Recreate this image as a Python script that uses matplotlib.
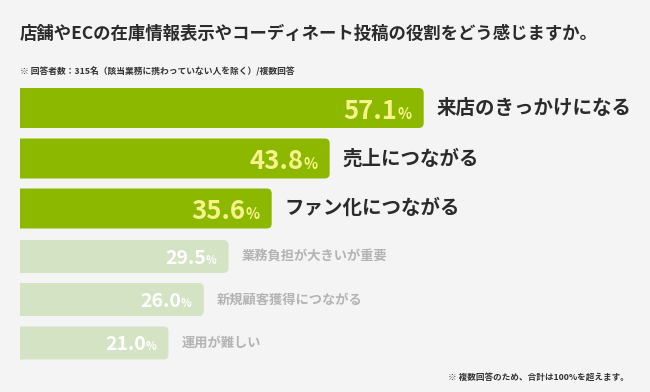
import matplotlib
matplotlib.use("Agg")
import matplotlib.pyplot as plt
from matplotlib.patches import FancyBboxPatch, Rectangle

plt.rcParams['font.family'] = ['Noto Sans CJK JP', 'DejaVu Sans']

# ---- data ----
categories = ["来店のきっかけになる", "売上につながる", "ファン化につながる",
              "業務負担が大きいが重要", "新規顧客獲得につながる", "運用が難しい"]
values = [57.1, 43.8, 35.6, 29.5, 26.0, 21.0]
highlight = [True, True, True, False, False, False]

title = "店舗やECの在庫情報表示やコーディネート投稿の役割をどう感じますか。"
note_top = "※ 回答者数：315名（該当業務に携わっていない人を除く）/複数回答"
note_bottom = "※ 複数回答のため、合計は100%を超えます。"

# ---- layout (pixels) ----
W, H = 650, 392
left_px = 20
px_per_pct = 7.07
centers_px = [108, 158.5, 208.5, 256.5, 299.5, 343]
heights_px = [40, 40, 40, 33, 33, 33]
radius_px = 5

bg = "#f4f4f4"
fig = plt.figure(figsize=(W / 100, H / 100), dpi=100, facecolor=bg)
ax = fig.add_axes([0, 0, 1, 1])
ax.set_facecolor(bg)
ax.set_xlim(-left_px / px_per_pct, (W - left_px) / px_per_pct)
ax.set_ylim(H, 0)
ax.axis("off")

clip = Rectangle((0, -1000), 1000, 3000, transform=ax.transData, visible=False)
ax.add_patch(clip)

rs = radius_px / px_per_pct
for cat, v, hl, yc, h in zip(categories, values, highlight, centers_px, heights_px):
    col = "#8db800" if hl else "#d5e3c5"
    p = FancyBboxPatch((-5, yc - h / 2), v + 5, h,
                       boxstyle=f"round,pad=0,rounding_size={rs}",
                       mutation_aspect=px_per_pct,
                       fc=col, ec="none")
    ax.add_patch(p)
    p.set_clip_path(clip)

    if hl:
        vcol, nsize, psize, lsize, lcol = "#f6f28c", 18.5, 10.5, 14, "#2b2b2b"
        end_gap = 12.5
        base = yc + 10.5
    else:
        vcol, nsize, psize, lsize, lcol = "white", 14, 8, 9.5, "#b3b3b3"
        end_gap = 12
        base = yc + 7.5
    xend = v - end_gap / px_per_pct
    ax.text(xend, base, "%", color=vcol, fontsize=psize, fontweight="bold",
            ha="right", va="baseline")
    ptw = 13 if hl else 10
    ax.text(xend - ptw / px_per_pct - 0.1, base, f"{v:.1f}", color=vcol,
            fontsize=nsize, fontweight="bold", ha="right", va="baseline")
    ax.text(v + 13 / px_per_pct, yc, cat, color=lcol, fontsize=lsize,
            fontweight="bold", ha="left", va="center")

ax.text(0, 34, title, fontsize=12.5, fontweight="bold", color="#2b2b2b",
        ha="left", va="center")
ax.text(0, 72, note_top, fontsize=6.3, fontweight="bold", color="#333333",
        ha="left", va="center")
ax.text((629 - left_px) / px_per_pct, 377, note_bottom, fontsize=6.2,
        fontweight="bold", color="#333333", ha="right", va="center")

fig.savefig("out.png", dpi=100, facecolor=bg)
